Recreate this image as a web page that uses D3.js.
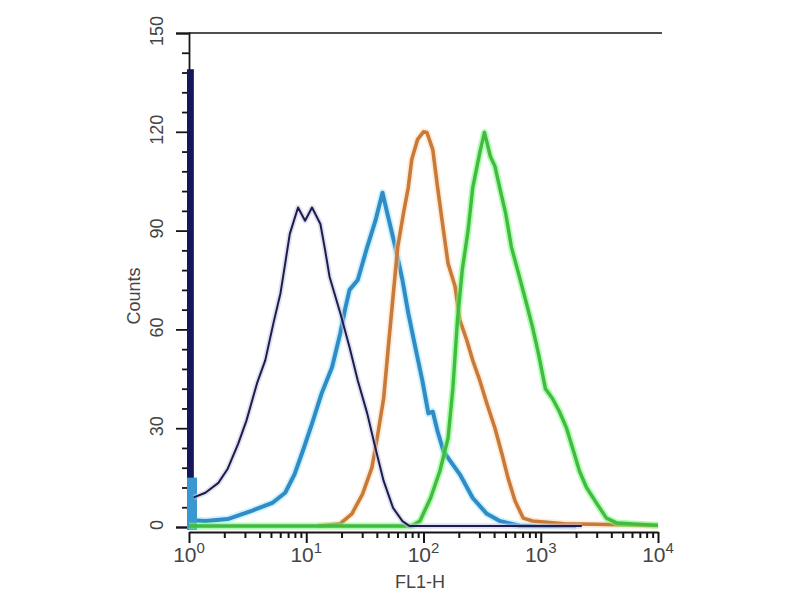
<!DOCTYPE html>
<html>
<head>
<meta charset="utf-8">
<script src="https://cdn.jsdelivr.net/npm/d3@7/dist/d3.min.js"></script>
<style>
  html, body { margin: 0; padding: 0; background: #fff; }
  svg { display: block; }
  text { font-family: "Liberation Sans", Arial, sans-serif; }
</style>
</head>
<body>
<svg id="chart" width="800" height="600"></svg>
<script>
// ---------------- data (FL1-H channel value, counts) ----------------
const yTickLabels = [0, 30, 60, 90, 120, 150];
const xTickExponents = [0, 1, 2, 3, 4];

// first (saturated) bins piled at the left edge
const navyFirstBin = { end: 1.1, count: 139 };
const blueFirstBin = { end: 1.17, count: 15 };

const navyFL = [1.10, 1.38, 1.78, 2.14, 2.63, 3.09, 3.80, 4.47, 5.25, 6.03, 6.61, 7.24, 8.51, 9.77, 11.2, 13.2, 14.5, 15.8, 19.5, 23.4, 27.5, 33.1, 38.9, 45.7, 55.0, 66.1, 75.9, 2239];
const navyCounts = [9, 10.4, 13.4, 17.7, 25.3, 32.3, 43.6, 50.6, 61.9, 71, 80, 89, 97, 93, 97, 92, 84, 76, 65, 54.6, 44.5, 34.5, 24, 14, 5.8, 1.8, 0.3, 0.3];

const blueFL = [1.17, 1.38, 2.14, 3.47, 5.13, 6.61, 7.94, 9.33, 11.2, 13.5, 16.6, 19.5, 21.4, 23.4, 27.5, 33.1, 38.9, 44.7, 49.0, 57.5, 66.1, 74.1, 85.1, 97.7, 110, 120, 132, 148, 162, 204, 263, 347, 447, 661, 1995];
const blueCounts = [2, 1.8, 2.4, 5, 7.3, 10.4, 16, 23, 31.4, 40.5, 48.5, 58.8, 66, 72, 75, 85, 93, 101.5, 95.4, 85, 75, 65, 54.6, 44.5, 34.5, 35, 29, 23, 21, 16, 8.8, 4, 1.8, 0.4, 0.3];

const orangeFL = [12.6, 19.5, 24.5, 30.2, 36.3, 40.7, 45.7, 50.1, 55.0, 60.3, 67.6, 74.1, 79.4, 89.1, 100, 107, 120, 132, 148, 162, 186, 204, 234, 263, 302, 347, 407, 468, 525, 603, 708, 851, 1585, 10000];
const orangeCounts = [0.3, 1, 4, 10, 18, 28, 39, 54.6, 70, 85, 95.4, 103, 111.6, 117.7, 120, 119.8, 114.6, 103, 90, 80, 73, 62.8, 56.7, 50.6, 44.5, 37.5, 30, 22, 15, 8, 2.7, 1.8, 1, 0.5];

const greenFL = [1, 79.4, 93.3, 115, 138, 162, 178, 195, 214, 240, 263, 302, 331, 372, 407, 447, 501, 562, 646, 741, 851, 955, 1096, 1259, 1445, 1660, 1905, 2138, 2455, 3020, 3631, 4467, 10000];
const greenCounts = [0.3, 0.3, 1.8, 8.8, 17, 27, 42, 63, 78, 90, 103, 113.7, 119.8, 112.5, 109.5, 103, 95.4, 85, 77, 69, 60.7, 52.7, 42, 39, 35, 30, 23, 17, 12, 7, 2.7, 1.2, 0.5];

// ---------------- layout ----------------
const svg = d3.select("#chart");
const x = d3.scaleLog().domain([1, 10000]).range([189, 658]);
const y = d3.scaleLinear().domain([0, 150]).range([527, 33]);
const axisY = 532;
const inkColor = "#151515";
const labelColor = "#444444";

const zip = (xs, ys) => xs.map((v, i) => [v, ys[i]]);
const line = d3.line().x(d => x(d[0])).y(d => y(d[1]));

// top line at 150
svg.append("line")
  .attr("x1", x(1)).attr("x2", x(10000) + 4)
  .attr("y1", y(150)).attr("y2", y(150))
  .attr("stroke", inkColor).attr("stroke-width", 1.6);

// y axis ticks
const yAll = d3.range(0, 151, 6);
const gY = svg.append("g").attr("transform", `translate(${x(1)},0)`);
gY.call(d3.axisLeft(y).tickValues(yAll.filter(v => v % 30 !== 0)).tickSize(7).tickFormat(""));
gY.call(g => g.select(".domain").remove());
const gY2 = svg.append("g").attr("transform", `translate(${x(1)},0)`);
gY2.call(d3.axisLeft(y).tickValues(yAll.filter(v => v % 30 === 0)).tickSize(13).tickFormat(""));
svg.selectAll("g .tick line").attr("stroke", inkColor).attr("stroke-width", 1.8);
svg.selectAll("g .domain").attr("stroke", inkColor).attr("stroke-width", 1.8);

// y tick labels (rotated)
svg.append("g").selectAll("text").data(yTickLabels).join("text")
  .attr("transform", d => `translate(163,${y(d) - 2}) rotate(-90)`)
  .attr("text-anchor", "middle")
  .attr("font-size", 18)
  .attr("fill", labelColor)
  .text(d => d);

// y axis title
svg.append("text")
  .attr("transform", `translate(140,296) rotate(-90)`)
  .attr("text-anchor", "middle")
  .attr("font-size", 18)
  .attr("fill", labelColor)
  .text("Counts");

// x axis
const xMinor = [];
for (let e = 0; e < 4; e++) for (let k = 2; k <= 9; k++) xMinor.push(k * Math.pow(10, e));
const xMajor = xTickExponents.map(e => Math.pow(10, e));
const gX = svg.append("g").attr("transform", `translate(0,${axisY})`);
gX.call(d3.axisBottom(x).tickValues(xMinor).tickSize(6).tickFormat(""));
gX.select(".domain").remove();
const gX2 = svg.append("g").attr("transform", `translate(0,${axisY})`);
gX2.call(d3.axisBottom(x).tickValues(xMajor).tickSize(11).tickFormat("").tickSizeOuter(0));
gX.selectAll(".tick line").attr("stroke", inkColor).attr("stroke-width", 2);
gX2.selectAll(".tick line").attr("stroke", inkColor).attr("stroke-width", 2);
gX2.select(".domain").attr("stroke", inkColor).attr("stroke-width", 2.2);

// x tick labels 10^n
const xl = svg.append("g").selectAll("text").data(xTickExponents).join("text")
  .attr("x", d => x(Math.pow(10, d)))
  .attr("y", 562)
  .attr("text-anchor", "middle")
  .attr("font-size", 21)
  .attr("fill", labelColor);
xl.append("tspan").text("10");
xl.append("tspan").attr("font-size", 15).attr("dy", -9).text(d => d);

// x axis title
svg.append("text")
  .attr("x", 420).attr("y", 588)
  .attr("text-anchor", "middle")
  .attr("font-size", 18)
  .attr("fill", labelColor)
  .text("FL1-H");

// ---------------- histograms ----------------
const plot = svg.append("g");

// navy saturated first bin
plot.append("rect")
  .attr("x", x(1) - 2).attr("width", x(navyFirstBin.end) - x(1) + 2)
  .attr("y", y(navyFirstBin.count)).attr("height", y(0) - y(navyFirstBin.count) + 3)
  .attr("fill", "#16165c");
// blue first bin
plot.append("rect")
  .attr("x", x(1) - 2).attr("width", x(blueFirstBin.end) - x(1) + 2)
  .attr("y", y(blueFirstBin.count)).attr("height", y(0) - y(blueFirstBin.count) + 3)
  .attr("fill", "#3a97cf");

const series = [
  { data: zip(blueFL, blueCounts), color: "#2f8cc4", halo: "#a8e6ff", w: 4 },
  { data: zip(orangeFL, orangeCounts), color: "#c77a3a", halo: "#ffdcb8", w: 3.6 },
  { data: zip(greenFL, greenCounts), color: "#44b944", halo: "#6cff6c", w: 3.4 },
  { data: zip(navyFL, navyCounts), color: "#1c1c50", halo: "#c8c8e0", w: 2 }
];

series.forEach(s => {
  plot.append("path").datum(s.data)
    .attr("d", line).attr("fill", "none")
    .attr("stroke", s.halo).attr("stroke-opacity", 0.55)
    .attr("stroke-width", s.w + 3.5).attr("stroke-linejoin", "round");
  plot.append("path").datum(s.data)
    .attr("d", line).attr("fill", "none")
    .attr("stroke", s.color)
    .attr("stroke-width", s.w).attr("stroke-linejoin", "round");
});
</script>
</body>
</html>
